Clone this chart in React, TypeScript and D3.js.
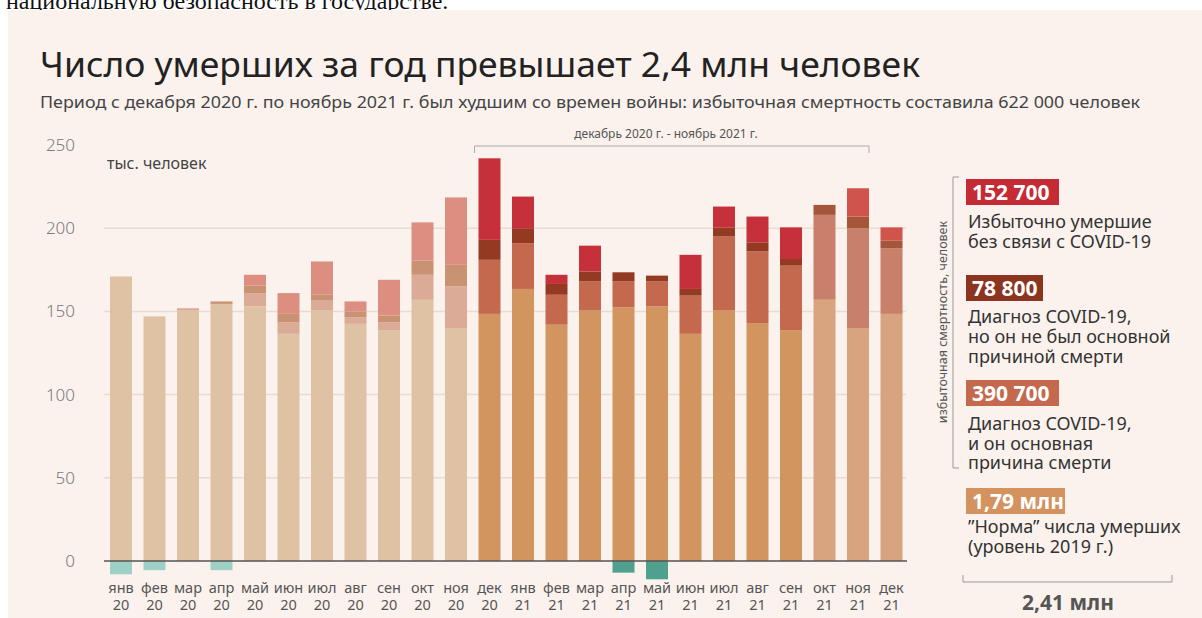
import * as d3 from "d3";

// месяцы янв 2020 – дек 2021
const months = ["янв", "фев", "мар", "апр", "май", "июн", "июл", "авг", "сен", "окт", "ноя", "дек",
  "янв", "фев", "мар", "апр", "май", "июн", "июл", "авг", "сен", "окт", "ноя", "дек"];
const years = ["20", "20", "20", "20", "20", "20", "20", "20", "20", "20", "20", "20",
  "21", "21", "21", "21", "21", "21", "21", "21", "21", "21", "21", "21"];

// тыс. человек
const norm = [171, 147, 151, 154.5, 153, 136.5, 150.5, 142.5, 138.5, 157, 140, 148.5,
  163.5, 142, 150.5, 152.5, 153, 136.5, 150.5, 143, 138.5, 157, 140, 148.5];
const covidMain = [0, 0, 0, 0, 8, 7, 6, 4, 5, 15, 25, 32.5,
  27.5, 18, 17.5, 15.5, 15, 23, 44.5, 43, 39, 51, 60, 39.5];
const covidOther = [0, 0, 0, 1.5, 4.5, 5, 3.5, 3.5, 4, 8.5, 13, 12,
  9, 6.5, 6, 5.5, 3.5, 4, 5.5, 5.5, 4, 6, 7, 4.5];
const excessOther = [0, 0, 0.8, 0, 6.5, 12.5, 20, 6, 21.5, 23, 40.5, 49,
  19, 5.5, 15.5, 0, 0, 20.5, 12.5, 15.5, 19, 0, 17, 8];
const deficit = [-8, -5.5, 0, -5.5, 0, 0, 0, 0, 0, 0, 0, 0,
  0, 0, 0, -7, -11, 0, 0, 0, 0, 0, 0, 0];

const yTicks = [0, 50, 100, 150, 200, 250];

const legendItems = [
  { value: "152 700", key: "excess", lines: ["Избыточно умершие", "без связи с COVID-19"] },
  { value: "78 800", key: "other", lines: ["Диагноз  COVID-19,", "но он не был основной", "причиной смерти"] },
  { value: "390 700", key: "main", lines: ["Диагноз  COVID-19,", "и он основная", "причина смерти"] },
  { value: "1,79 млн", key: "norm", lines: ["\u201DНорма\u201D числа умерших", "(уровень 2019 г.)"] },
];

const palette: Record<string, Record<string, string>> = {
  faded: { norm: "#dfc1a4", main: "#dcab98", other: "#c99373", excess: "#dc8f80", teal: "#9fd0c6" },
  full: { norm: "#d3955f", main: "#c4694e", other: "#943a23", excess: "#c6303a", teal: "#4fa08e" },
  prelim: { norm: "#d8a47f", main: "#c8806a", other: "#a5553a", excess: "#d0544b", teal: "#4fa08e" },
};
const phase = (i: number) => (i < 11 ? "faded" : i > 20 ? "prelim" : "full");

const W = 1202;
const H = 618;
const font = "'Noto Sans', sans-serif";

export default function App() {
  const x = d3.scaleBand<number>()
    .domain(d3.range(months.length))
    .range([104.25, 908.25])
    .paddingInner(0.343)
    .paddingOuter(0.1715);
  const y = d3.scaleLinear().domain([0, 250]).range([561, 145]);

  const rows = months.map((_, i) => ({
    norm: norm[i], main: covidMain[i], other: covidOther[i], excess: excessOther[i],
  }));
  const keys = ["norm", "main", "other", "excess"];
  const series = d3.stack<any>().keys(keys)(rows);

  const legendColors: Record<string, string> = {
    excess: "#c42b35", other: "#8b3520", main: "#c4694e", norm: "#d4925f",
  };
  const boxTops = [179, 275, 380, 488];
  const boxW = [93, 77, 93, 99];
  const lineY = [[228, 248], [323, 343, 363], [430, 450, 469], [533, 553]];

  return (
    <svg width={W} height={H} style={{ position: "absolute", left: 0, top: 0, background: "#fff" }}>
      <text x={6} y={9} fontFamily="'Liberation Serif', serif" fontSize={24} fill="#111">
        национальную безопасность в государстве.
      </text>
      <rect x={8} y={10} width={W - 8} height={H - 10} fill="#fbf2ed" />

      <text x={40} y={77} fontFamily={font} fontSize={34} fill="#222" textLength={880}
        lengthAdjust="spacingAndGlyphs">
        Число умерших за год превышает 2,4 млн человек
      </text>
      <text x={40} y={108} fontFamily={font} fontSize={16} fill="#444" textLength={1100}
        lengthAdjust="spacingAndGlyphs">
        Период с декабря 2020 г. по ноябрь 2021 г. был худшим со времен войны: избыточная смертность составила 622 000 человек
      </text>

      {/* сетка */}
      {yTicks.filter((t) => t > 0 && t < 250).map((t) => (
        <line key={t} x1={104} x2={906} y1={y(t)} y2={y(t)} stroke="#e8dbd3" strokeWidth={1.5} />
      ))}
      {yTicks.map((t) => (
        <text key={t} x={75} y={y(t)} dy="0.35em" textAnchor="end" fontFamily={font}
          fontSize={17} fontWeight={300} fill="#7a7a7a">{t}</text>
      ))}
      <text x={107} y={169} fontFamily={font} fontSize={16} fill="#444">тыс. человек</text>

      {/* столбцы */}
      {series.map((s) => (
        <g key={s.key}>
          {s.map((d, i) => (d[1] - d[0] > 0 ? (
            <rect key={i} x={x(i)} width={x.bandwidth()} y={y(d[1])} height={y(d[0]) - y(d[1])}
              fill={palette[phase(i)][s.key as string]} />
          ) : null))}
        </g>
      ))}
      {deficit.map((v, i) => (v < 0 ? (
        <rect key={i} x={x(i)} width={x.bandwidth()} y={y(0)} height={y(v) - y(0)}
          fill={palette[phase(i)].teal} />
      ) : null))}
      <line x1={104} x2={907} y1={y(0)} y2={y(0)} stroke="#555" strokeWidth={1.5} />

      {/* подписи оси X */}
      {months.map((m, i) => (
        <g key={i} fontFamily={font} fontSize={14.5} fill="#555" textAnchor="middle">
          <text x={x(i)! + x.bandwidth() / 2} y={593}>{m}</text>
          <text x={x(i)! + x.bandwidth() / 2} y={610}>{years[i]}</text>
        </g>
      ))}

      {/* период */}
      <path d={`M${x(11)! - 4},153 V146 H${x(22)! + x.bandwidth()} V153`} fill="none" stroke="#aaa" strokeWidth={1} />
      <text x={666} y={138} textAnchor="middle" fontFamily={font} fontSize={12} fill="#555">
        декабрь 2020 г. - ноябрь 2021 г.
      </text>

      {/* легенда */}
      <path d="M959,177 H953 V468 H959" fill="none" stroke="#999" strokeWidth={1} />
      <text transform="translate(947,322) rotate(-90)" textAnchor="middle" fontFamily={font}
        fontSize={12.5} fill="#555">избыточная смертность, человек</text>
      {legendItems.map((item, k) => (
        <g key={k} fontFamily={font}>
          <rect x={966} y={boxTops[k]} width={boxW[k]} height={26} fill={legendColors[item.key]} />
          <text x={972} y={boxTops[k] + 21} fontSize={21} fontWeight={700} fill="#fff">{item.value}</text>
          {item.lines.map((ln, j) => (
            <text key={j} x={968} y={lineY[k][j]} fontSize={18} fill="#333">{ln}</text>
          ))}
        </g>
      ))}
      <path d="M963,575 V582 H1172 V575" fill="none" stroke="#999" strokeWidth={1} />
      <text x={1068} y={610} textAnchor="middle" fontFamily={font} fontSize={21} fontWeight={700}
        fill="#555">2,41 млн</text>
    </svg>
  );
}
